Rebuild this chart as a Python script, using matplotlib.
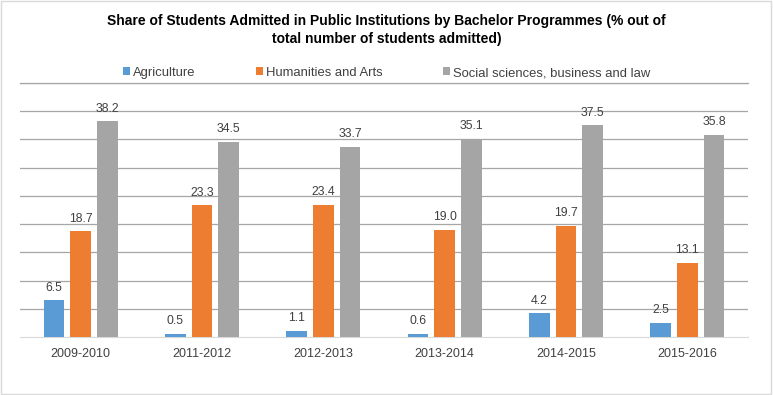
import matplotlib.pyplot as plt
import numpy as np

plt.rcParams['font.family'] = ['Liberation Sans', 'DejaVu Sans']

years = ['2009-2010', '2011-2012', '2012-2013', '2013-2014', '2014-2015', '2015-2016']
agriculture = [6.5, 0.5, 1.1, 0.6, 4.2, 2.5]
humanities = [18.7, 23.3, 23.4, 19.0, 19.7, 13.1]
social = [38.2, 34.5, 33.7, 35.1, 37.5, 35.8]

series_names = ['Agriculture', 'Humanities and Arts', 'Social sciences, business and law']
colors = ['#5B9BD5', '#ED7D31', '#A5A5A5']

fig = plt.figure(figsize=(7.73, 3.95), dpi=100)
ax = fig.add_axes([20 / 773, 1 - 337 / 395, 728 / 773, (337 - 83) / 395])

x = np.arange(len(years))
width = 0.17
offset = 0.22
handles = []
for i, (vals, name, col) in enumerate(zip([agriculture, humanities, social], series_names, colors)):
    bars = ax.bar(x + (i - 1) * offset, vals, width, color=col, label=name, zorder=3)
    handles.append(bars)
    for b, v in zip(bars, vals):
        ax.text(b.get_x() + b.get_width() / 2, v + 1.2, f'{v:.1f}', ha='center', va='bottom',
                fontsize=8.8, color='#404040')

ax.set_ylim(0, 45)
ax.set_xlim(-0.5, len(years) - 0.5)
ax.set_yticks(np.arange(5, 46, 5))
ax.yaxis.grid(True, color='#A6A6A6', linewidth=0.9, zorder=0)
ax.axhline(45, color='#A6A6A6', linewidth=0.9, zorder=0, clip_on=False)
ax.tick_params(axis='y', left=False, labelleft=False)
ax.tick_params(axis='x', length=0, labelsize=9, labelcolor='#404040', pad=8)
ax.set_xticks(x)
ax.set_xticklabels(years)
for s in ['top', 'left', 'right']:
    ax.spines[s].set_visible(False)
ax.spines['bottom'].set_color('#D9D9D9')

fig.text(0.5, 1 - 14 / 395, 'Share of Students Admitted in Public Institutions by Bachelor Programmes (% out of\ntotal number of students admitted)',
         ha='center', va='top', fontsize=10, fontweight='bold', linespacing=1.35)

fig.legend(handles=handles, loc='center', bbox_to_anchor=(0.5, 1 - 73 / 395), ncol=3, frameon=False,
           fontsize=9.4, handlelength=0.55, handleheight=0.55, handletextpad=0.25, columnspacing=4.6,
           labelcolor='#404040')

border = plt.Rectangle((0.001, 0.002), 0.997, 0.996, transform=fig.transFigure, fill=False,
                       edgecolor='#D9D9D9', linewidth=1)
fig.patches.append(border)

fig.savefig('out.png', dpi=100)
